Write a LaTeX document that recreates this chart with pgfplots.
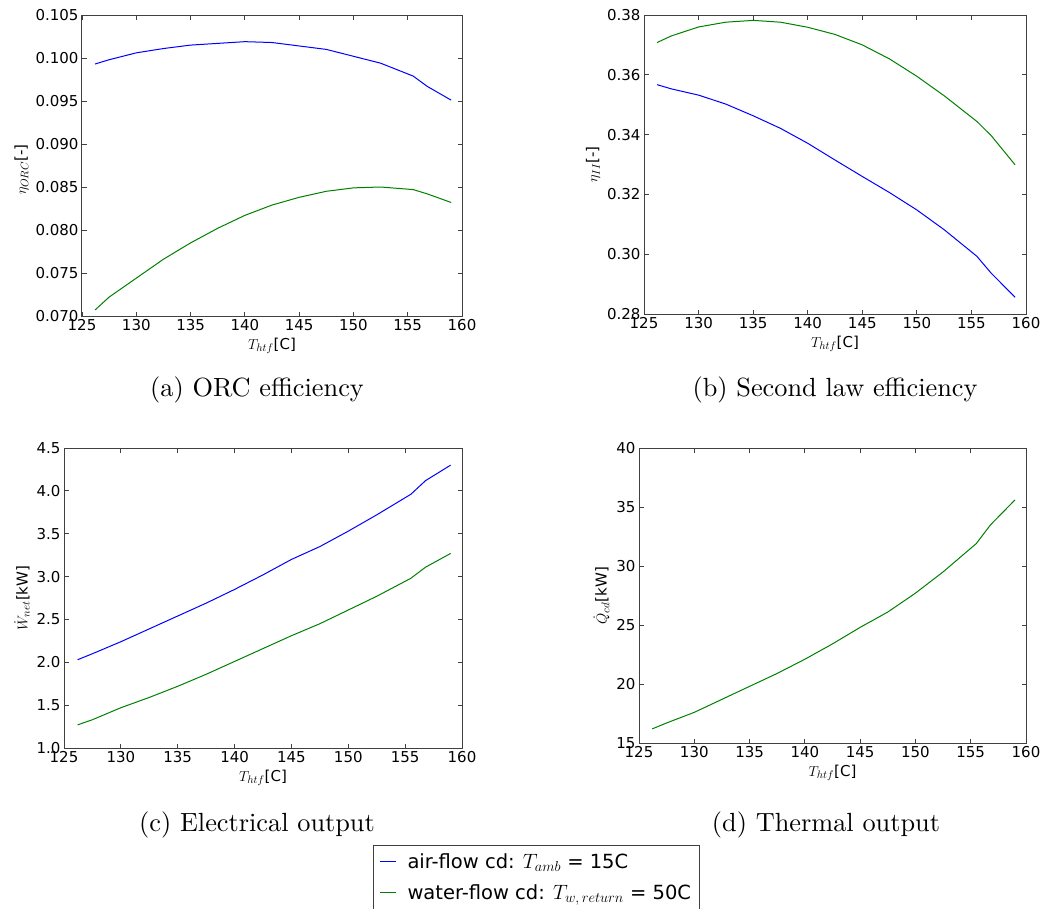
\documentclass[border=0pt]{standalone}
\usepackage{fontspec}
\usepackage{pgfplots}
\pgfplotsset{compat=1.18}
\newfontfamily\dejavu{DejaVu Sans}
\definecolor{mplblue}{rgb}{0,0,1}
\definecolor{mplgreen}{rgb}{0,0.5,0}

\pgfplotsset{
  legend image code/.code={\draw[#1] (0pt,0pt) -- (16pt,0pt); \path (25pt,0pt);},
  subfig/.style={
    scale only axis,
    xmin=125, xmax=160,
    xtick={125,130,135,140,145,150,155,160},
    tick align=inside,
    tick pos=both,
    axis line style={black!75, line width=1pt},
    major tick length=4.5pt,
    every tick/.style={black!75, line width=0.8pt},
    tick label style={font=\dejavu\fontsize{15}{15}\selectfont},
    label style={font=\fontsize{15}{15}\selectfont},
    xlabel={$T_{htf}${\dejavu[C]}},
    /pgf/number format/assume math mode=true,
    scaled y ticks=false,
  },
}

\begin{document}
\begin{tikzpicture}
\useasboundingbox (0,0) rectangle (1057pt,-908pt);

% (a) ORC efficiency
\begin{axis}[subfig,
    at={(82pt,-15pt)}, anchor=north west,
    width=380pt, height=301pt,
    ymin=0.070, ymax=0.105,
    ytick={0.070,0.075,0.080,0.085,0.090,0.095,0.100,0.105},
    yticklabel style={/pgf/number format/.cd, fixed, fixed zerofill, precision=3},
    ylabel={$\eta_{ORC}${\dejavu[-]}},
    ylabel style={xshift=-4pt},
]
\addplot[mplblue, line width=1pt] coordinates {
  (126.2,0.0993)(127.5,0.0998)(130,0.1006)(132.5,0.1011)(135,0.1015)(137.5,0.1017)
  (140,0.1019)(142.5,0.1018)(145,0.1014)(147.5,0.1010)(150,0.1002)(152.5,0.0994)
  (155.5,0.0979)(156.8,0.0967)(159,0.0951)};
\addplot[mplgreen, line width=1pt] coordinates {
  (126.2,0.0707)(127.5,0.0722)(130,0.0744)(132.5,0.0766)(135,0.0785)(137.5,0.0802)
  (140,0.0817)(142.5,0.0829)(145,0.0838)(147.5,0.0845)(150,0.0849)(152.5,0.0850)
  (155.5,0.0847)(156.8,0.0842)(159,0.0832)};
\end{axis}

% (b) second law efficiency
\begin{axis}[subfig,
    at={(644pt,-15pt)}, anchor=north west,
    width=382pt, height=299pt,
    ymin=0.28, ymax=0.38,
    ytick={0.28,0.30,0.32,0.34,0.36,0.38},
    yticklabel style={/pgf/number format/.cd, fixed, fixed zerofill, precision=2},
    ylabel={$\eta_{II}${\dejavu[-]}},
]
\addplot[mplblue, line width=1pt] coordinates {
  (126.2,0.3567)(127.5,0.3553)(130,0.3532)(132.5,0.3502)(135,0.3463)(137.5,0.3421)
  (140,0.3371)(142.5,0.3315)(145,0.3260)(147.5,0.3206)(150,0.3148)(152.5,0.3082)
  (155.5,0.2993)(156.8,0.2937)(159,0.2856)};
\addplot[mplgreen, line width=1pt] coordinates {
  (126.2,0.3708)(127.5,0.3730)(130,0.3760)(132.5,0.3776)(135,0.3782)(137.5,0.3776)
  (140,0.3759)(142.5,0.3735)(145,0.3700)(147.5,0.3653)(150,0.3595)(152.5,0.3530)
  (155.5,0.3444)(156.8,0.3397)(159,0.3299)};
\end{axis}

% (c) electrical output
\begin{axis}[subfig,
    at={(64pt,-448pt)}, anchor=north west,
    width=398pt, height=300pt,
    ymin=1.0, ymax=4.5,
    ytick={1.0,1.5,2.0,2.5,3.0,3.5,4.0,4.5},
    yticklabel style={/pgf/number format/.cd, fixed, fixed zerofill, precision=1},
    ylabel={$\dot{W}_{net}${\dejavu[kW]}},
    legend style={at={(0.7764,-0.3233)}, anchor=north west,
      draw=black!75, line width=1pt,
      font=\dejavu\fontsize{19.5}{19.5}\selectfont,
      inner xsep=6pt, inner ysep=6pt, row sep=11pt},
    legend cell align=left,
]
\addplot[mplblue, line width=1pt] coordinates {
  (126.2,2.03)(127.5,2.10)(130,2.24)(132.5,2.39)(135,2.54)(137.5,2.69)
  (140,2.85)(142.5,3.02)(145,3.20)(147.5,3.35)(150,3.53)(152.5,3.72)
  (155.5,3.96)(156.8,4.12)(159,4.30)};
\addlegendentry{air-flow cd: $T_{amb}$ = 15C}
\addplot[mplgreen, line width=1pt] coordinates {
  (126.2,1.27)(127.5,1.33)(130,1.47)(132.5,1.59)(135,1.72)(137.5,1.86)
  (140,2.01)(142.5,2.16)(145,2.31)(147.5,2.45)(150,2.61)(152.5,2.77)
  (155.5,2.98)(156.8,3.11)(159,3.27)};
\addlegendentry{water-flow cd: $T_{w,\,return}$ = 50C}
\end{axis}

% (d) thermal output
\begin{axis}[subfig,
    at={(639pt,-448pt)}, anchor=north west,
    width=387pt, height=295pt,
    ymin=15, ymax=40,
    ytick={15,20,25,30,35,40},
    ylabel={$\dot{Q}_{cd}${\dejavu[kW]}},
]
\addplot[mplgreen, line width=1pt] coordinates {
  (126.2,16.2)(127.5,16.7)(130,17.6)(132.5,18.7)(135,19.8)(137.5,20.9)
  (140,22.1)(142.5,23.4)(145,24.8)(147.5,26.1)(150,27.7)(152.5,29.5)
  (155.5,31.9)(156.8,33.5)(159,35.6)};
\end{axis}

\node[scale=2.63, inner sep=0] at (257pt,-390pt) {(a) ORC efficiency};
\node[scale=2.63, inner sep=0] at (835pt,-390pt) {(b) Second law efficiency};
\node[scale=2.63, inner sep=0] at (257pt,-825pt) {(c) Electrical output};
\node[scale=2.63, inner sep=0] at (826pt,-825pt) {(d) Thermal output};
\end{tikzpicture}
\end{document}
